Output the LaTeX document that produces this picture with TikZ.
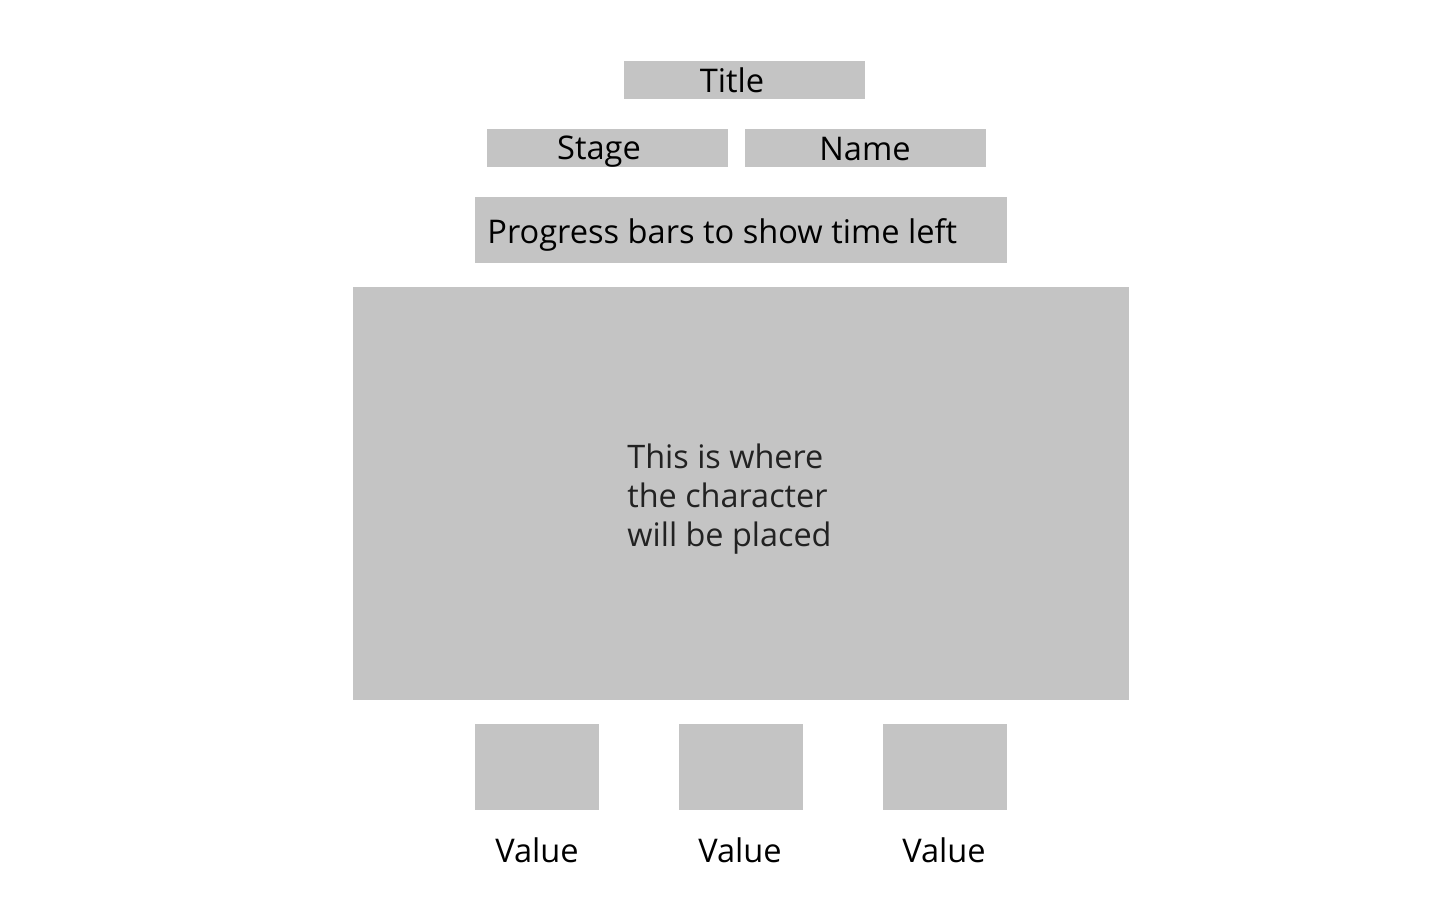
\documentclass[tikz,border=0pt]{standalone}
\usepackage{fontspec}
\setmainfont{Open Sans}
\definecolor{boxgray}{HTML}{C4C4C4}
\definecolor{txtdark}{HTML}{222222}
\begin{document}
\begin{tikzpicture}[x=0.5pt,y=-0.5pt,
  gbox/.style={fill=boxgray,draw=none,inner sep=0pt,outer sep=0pt},
  lbl/.style={inner sep=0pt,anchor=base,font=\fontsize{16.3}{19.5}\selectfont,text=black},
  midlbl/.style={lbl,anchor=base west,text=txtdark,font=\fontsize{16.2}{19.5}\selectfont}]
\useasboundingbox (0,0) rectangle (1440,900);
\path[gbox] (624,61) rectangle (865,99);
\node[lbl] (title) at (732,92) {Title};
\path[gbox] (487,129) rectangle (728,167);
\node[lbl] (stage) at (599,159) {Stage};
\path[gbox] (745,129) rectangle (986,167);
\node[lbl] (name) at (865,160) {Name};
\path[gbox] (475,197) rectangle (1007,263);
\node[lbl,anchor=base west] (progress) at (487,243) {Progress bars to show time left};
\path[gbox] (353,287) rectangle (1129,700);
\node[midlbl] (c1) at (627,468) {This is where};
\node[midlbl] (c2) at (627,507) {the character};
\node[midlbl] (c3) at (627,546) {will be placed};
\path[gbox] (475,724) rectangle (599,810);
\path[gbox] (679,724) rectangle (803,810);
\path[gbox] (883,724) rectangle (1007,810);
\node[lbl] (v1) at (537,862) {Value};
\node[lbl] (v2) at (740,862) {Value};
\node[lbl] (v3) at (944,862) {Value};
\end{tikzpicture}
\end{document}
